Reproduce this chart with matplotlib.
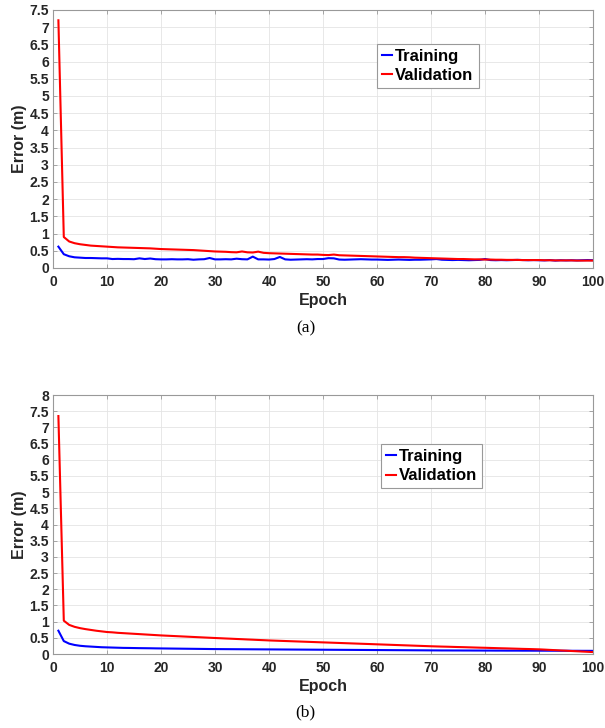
import matplotlib
matplotlib.use('Agg')
import matplotlib.pyplot as plt
from matplotlib.ticker import MultipleLocator, FuncFormatter
import numpy as np

plt.rcParams['font.family'] = ['Liberation Sans', 'DejaVu Sans']

epochs = np.arange(1, 101)

# (a) training / validation error per epoch
train_a = [
    0.62, 0.40, 0.34, 0.31, 0.30, 0.29, 0.29, 0.285, 0.28, 0.28,
    0.26, 0.265, 0.26, 0.26, 0.255, 0.28, 0.26, 0.275, 0.255, 0.25,
    0.25, 0.255, 0.25, 0.25, 0.255, 0.24, 0.25, 0.255, 0.29, 0.25,
    0.25, 0.255, 0.25, 0.27, 0.255, 0.25, 0.33, 0.25, 0.25, 0.245,
    0.26, 0.32, 0.25, 0.24, 0.245, 0.25, 0.255, 0.25, 0.26, 0.26,
    0.285, 0.28, 0.245, 0.24, 0.245, 0.25, 0.255, 0.25, 0.245, 0.245,
    0.24, 0.235, 0.24, 0.245, 0.24, 0.235, 0.24, 0.24, 0.245, 0.25,
    0.26, 0.24, 0.235, 0.23, 0.235, 0.23, 0.225, 0.23, 0.235, 0.26,
    0.23, 0.225, 0.23, 0.225, 0.23, 0.235, 0.23, 0.225, 0.23, 0.225,
    0.22, 0.23, 0.215, 0.225, 0.22, 0.225, 0.22, 0.225, 0.23, 0.225,
]
val_a = [
    7.20, 0.90, 0.77, 0.72, 0.69, 0.67, 0.65, 0.64, 0.63, 0.62,
    0.61, 0.60, 0.595, 0.59, 0.585, 0.58, 0.575, 0.57, 0.56, 0.55,
    0.545, 0.54, 0.535, 0.53, 0.525, 0.52, 0.51, 0.50, 0.49, 0.48,
    0.475, 0.47, 0.46, 0.455, 0.48, 0.455, 0.45, 0.475, 0.44, 0.43,
    0.425, 0.42, 0.415, 0.41, 0.405, 0.40, 0.395, 0.39, 0.39, 0.38,
    0.375, 0.39, 0.37, 0.365, 0.36, 0.355, 0.35, 0.345, 0.34, 0.335,
    0.33, 0.325, 0.32, 0.315, 0.315, 0.31, 0.30, 0.295, 0.29, 0.285,
    0.28, 0.275, 0.27, 0.265, 0.26, 0.26, 0.255, 0.25, 0.25, 0.245,
    0.245, 0.24, 0.24, 0.235, 0.235, 0.235, 0.23, 0.23, 0.23, 0.23,
    0.225, 0.225, 0.22, 0.22, 0.22, 0.22, 0.215, 0.215, 0.215, 0.215,
]

# (b) training / validation error per epoch
train_b = [
    0.72, 0.40, 0.32, 0.28, 0.255, 0.24, 0.23, 0.22, 0.21, 0.205,
    0.20, 0.195, 0.19, 0.188, 0.185, 0.182, 0.18, 0.178, 0.175, 0.173,
    0.171, 0.169, 0.167, 0.165, 0.163, 0.161, 0.159, 0.157, 0.155, 0.153,
    0.152, 0.151, 0.150, 0.149, 0.148, 0.147, 0.146, 0.145, 0.144, 0.143,
    0.142, 0.141, 0.140, 0.139, 0.138, 0.137, 0.136, 0.135, 0.134, 0.133,
    0.132, 0.131, 0.130, 0.129, 0.128, 0.127, 0.126, 0.125, 0.124, 0.123,
    0.122, 0.121, 0.120, 0.119, 0.118, 0.117, 0.116, 0.115, 0.114, 0.113,
    0.112, 0.111, 0.111, 0.110, 0.110, 0.109, 0.109, 0.108, 0.108, 0.107,
    0.107, 0.106, 0.106, 0.105, 0.105, 0.105, 0.104, 0.104, 0.103, 0.103,
    0.103, 0.102, 0.102, 0.101, 0.101, 0.100, 0.100, 0.099, 0.099, 0.098,
]
val_b = [
    7.35, 1.03, 0.90, 0.84, 0.80, 0.77, 0.745, 0.72, 0.70, 0.68,
    0.67, 0.655, 0.645, 0.635, 0.625, 0.615, 0.605, 0.595, 0.585, 0.575,
    0.567, 0.559, 0.551, 0.543, 0.535, 0.527, 0.519, 0.511, 0.503, 0.495,
    0.488, 0.480, 0.473, 0.465, 0.458, 0.450, 0.443, 0.435, 0.428, 0.420,
    0.414, 0.408, 0.402, 0.396, 0.390, 0.384, 0.378, 0.372, 0.366, 0.360,
    0.354, 0.348, 0.342, 0.336, 0.330, 0.324, 0.318, 0.312, 0.306, 0.300,
    0.294, 0.288, 0.282, 0.276, 0.270, 0.264, 0.258, 0.252, 0.246, 0.240,
    0.235, 0.230, 0.226, 0.221, 0.216, 0.212, 0.207, 0.202, 0.197, 0.193,
    0.188, 0.183, 0.178, 0.174, 0.169, 0.164, 0.159, 0.155, 0.150, 0.145,
    0.137, 0.128, 0.120, 0.111, 0.103, 0.094, 0.086, 0.077, 0.069, 0.060,
]

panels = [
    (train_a, val_a, 7.5, '(a)', [0.0876, 0.6319, 0.8926, 0.3544], (0.600, 0.868), -0.235),
    (train_b, val_b, 8.0, '(b)', [0.0876, 0.1016, 0.8926, 0.3558], (0.607, 0.810), -0.225),
]

fig = plt.figure(figsize=(6.05, 7.28), dpi=100)

for train, val, ymax, tag, pos, legpos, tag_y in panels:
    ax = fig.add_axes(pos)
    ax.plot(epochs, train, color='#0000ff', lw=1.5, label='Training')
    ax.plot(epochs, val, color='#ff0000', lw=1.5, label='Validation')
    ax.set_xlim(0, 100)
    ax.set_ylim(0, ymax)
    ax.xaxis.set_major_locator(MultipleLocator(10))
    ax.yaxis.set_major_locator(MultipleLocator(0.5))
    ax.yaxis.set_major_formatter(FuncFormatter(lambda v, p: '%g' % v))
    ax.grid(True, color='#e4e4e4', lw=0.6)
    ax.set_axisbelow(True)
    for s in ax.spines.values():
        s.set_color('#999999')
        s.set_linewidth(0.8)
    ax.tick_params(direction='in', length=3, width=0.6, color='#999999',
                   top=True, right=True, labelsize=10, labelcolor='#262626')
    ax.tick_params(axis='x', pad=5)
    ax.tick_params(axis='y', pad=3)
    for lab in ax.get_xticklabels() + ax.get_yticklabels():
        lab.set_fontweight('bold')
    ax.set_xlabel('Epoch', fontsize=11.5, fontweight='bold', color='#262626', labelpad=3)
    ax.set_ylabel('Error (m)', fontsize=11.5, fontweight='bold', color='#262626', labelpad=2)
    leg = ax.legend(loc='upper left', bbox_to_anchor=legpos, fancybox=False,
                    framealpha=1, edgecolor='#999999', handlelength=0.6,
                    handletextpad=0.2, borderpad=0.3, labelspacing=0.25,
                    borderaxespad=0, prop={'weight': 'bold', 'size': 12})
    leg.get_frame().set_linewidth(0.8)
    ax.text(0.468, tag_y, tag, transform=ax.transAxes, ha='center', va='center',
            fontsize=12.5, family='Liberation Serif')

fig.savefig('out.png', dpi=100)
